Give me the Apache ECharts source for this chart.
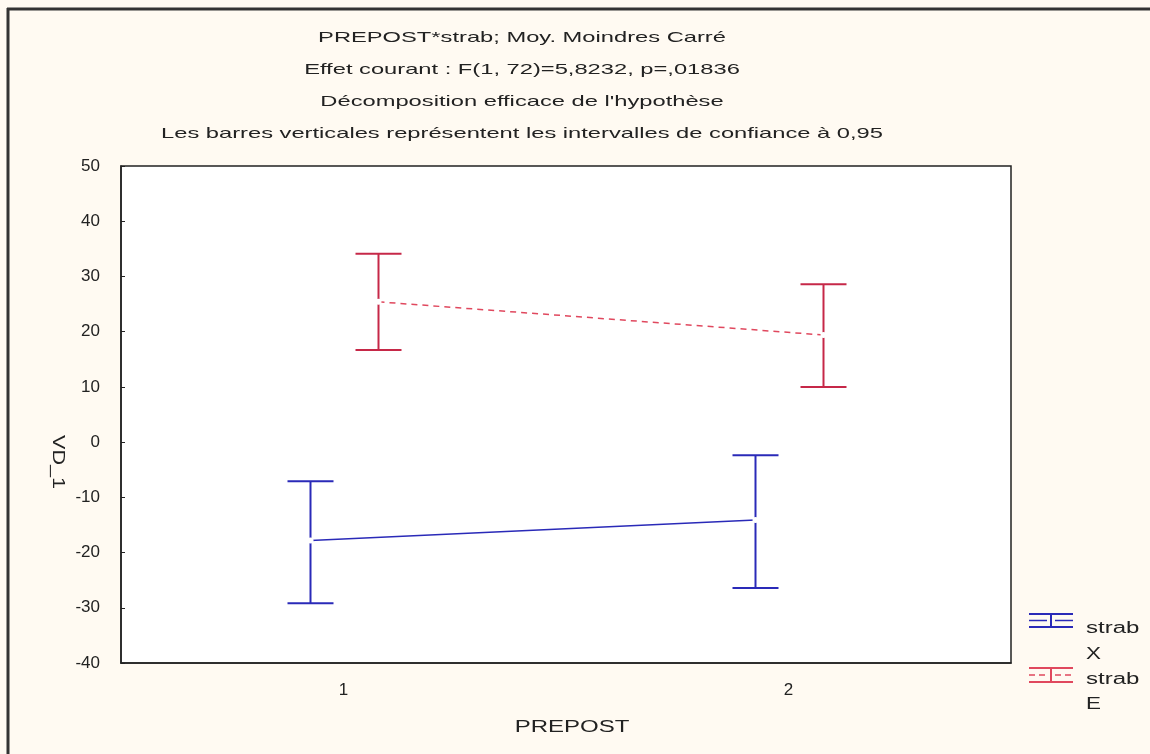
<!DOCTYPE html>
<html>
<head>
<meta charset="utf-8">
<script src="https://cdn.jsdelivr.net/npm/echarts@6/dist/echarts.min.js"></script>
<style>
  html, body { margin: 0; padding: 0; background: #fffaf2; }
  #chart { width: 1150px; height: 754px; }
</style>
</head>
<body>
<div id="chart"></div>
<script>
// PREPOST levels on the x axis
const categories = ['1', '2'];
const yTicks = { min: -40, max: 50, step: 10 };

// strab = X : least-squares means and 95% confidence limits
const meanX = [-17.8, -14.1];
const lowX = [-29.2, -26.4];
const highX = [-7.1, -2.4];

// strab = E : least-squares means and 95% confidence limits
const meanE = [25.4, 19.4];
const lowE = [16.7, 10.0];
const highE = [34.1, 28.6];

const titleLines = [
  'PREPOST*strab; Moy. Moindres Carré',
  'Effet courant : F(1, 72)=5,8232, p=,01836',
  'Décomposition efficace de l\'hypothèse',
  'Les barres verticales représentent les intervalles de confiance à 0,95'
];
const legendLabels = [['strab', 'X'], ['strab', 'E']];

const FONT = '"Liberation Sans", Arial, sans-serif';
const TICK_FONT = '"Liberation Sans", Arial, sans-serif';
const INK = '#222222';
const BLUE = '#2a2ab8';
const RED_BAR = '#c62848';
const RED_LINE = '#e0485e';

// one error-bar group per series, shifted sideways from the category tick
function groupSeries(name, means, lows, highs, dx, barColor, lineColor, dashed) {
  const rows = categories.map((c, i) => [i, means[i], lows[i], highs[i]]);
  return {
    type: 'custom',
    name: name,
    data: rows,
    z: 5,
    renderItem: function (params, api) {
      const i = api.value(0);
      const pMean = api.coord([i, api.value(1)]);
      const pLow = api.coord([i, api.value(2)]);
      const pHigh = api.coord([i, api.value(3)]);
      const x = pMean[0] + dx;
      const cap = 23;
      const children = [
        { type: 'line', shape: { x1: x, y1: pHigh[1], x2: x, y2: pLow[1] },
          style: { stroke: barColor, lineWidth: 2 } },
        { type: 'line', shape: { x1: x - cap, y1: pHigh[1], x2: x + cap, y2: pHigh[1] },
          style: { stroke: barColor, lineWidth: 2 } },
        { type: 'line', shape: { x1: x - cap, y1: pLow[1], x2: x + cap, y2: pLow[1] },
          style: { stroke: barColor, lineWidth: 2 } }
      ];
      // segment joining this mean to the next one
      if (i + 1 < rows.length) {
        const pNext = api.coord([i + 1, rows[i + 1][1]]);
        children.push({
          type: 'line',
          shape: { x1: x, y1: pMean[1], x2: pNext[0] + dx, y2: pNext[1] },
          style: { stroke: lineColor, lineWidth: 1.5, lineDash: dashed ? [6, 5] : null }
        });
      }
      children.push({ type: 'circle', shape: { cx: x, cy: pMean[1], r: 3 },
        style: { fill: '#ffffff' }, z2: 10 });
      return { type: 'group', children: children };
    }
  };
}

function legendIcon(x, yTop, yBot, color, dashed) {
  const yMid = (yTop + yBot) / 2;
  const xc = x + 22;
  return [
    { type: 'line', shape: { x1: x, y1: yTop, x2: x + 44, y2: yTop }, style: { stroke: color, lineWidth: 2 } },
    { type: 'line', shape: { x1: x, y1: yBot, x2: x + 44, y2: yBot }, style: { stroke: color, lineWidth: 2 } },
    { type: 'line', shape: { x1: xc, y1: yTop, x2: xc, y2: yBot }, style: { stroke: color, lineWidth: 2 } },
    { type: 'line', shape: { x1: x, y1: yMid, x2: xc - 4, y2: yMid },
      style: { stroke: color, lineWidth: 1.5, lineDash: dashed ? [6, 4] : null } },
    { type: 'line', shape: { x1: xc + 4, y1: yMid, x2: x + 44, y2: yMid },
      style: { stroke: color, lineWidth: 1.5, lineDash: dashed ? [6, 4] : null } }
  ];
}

// wide text, as printed by the original statistics package
function wideText(str, x, y, opts) {
  return {
    type: 'text', x: x, y: y,
    scaleX: opts.scaleX, rotation: opts.rotation || 0,
    style: {
      text: str, fontFamily: FONT, fontSize: opts.size, fontWeight: opts.weight || 'normal',
      fill: INK, align: opts.align || 'center', verticalAlign: 'middle'
    }
  };
}

const titleY = [38, 70, 102, 134];
const titleGraphics = titleLines.map((t, i) => wideText(t, 522, titleY[i], { size: 15, scaleX: 1.58 }));

const legendGraphics = [
  ...legendIcon(1029, 614, 627, BLUE, false),
  wideText(legendLabels[0][0], 1086, 629, { size: 16, scaleX: 1.5, align: 'left' }),
  wideText(legendLabels[0][1], 1086, 655, { size: 16, scaleX: 1.4, align: 'left' }),
  ...legendIcon(1029, 668, 682, RED_LINE, true),
  wideText(legendLabels[1][0], 1086, 680, { size: 16, scaleX: 1.5, align: 'left' }),
  wideText(legendLabels[1][1], 1086, 705, { size: 16, scaleX: 1.4, align: 'left' })
];

const chart = echarts.init(document.getElementById('chart'), null, { renderer: 'canvas' });

chart.setOption({
  backgroundColor: '#fffaf2',
  animation: false,
  grid: {
    left: 121, top: 166, right: 139, bottom: 91,
    show: true, backgroundColor: '#ffffff', borderColor: '#222', borderWidth: 1.5
  },
  xAxis: {
    type: 'category',
    data: categories,
    boundaryGap: true,
    axisLine: { onZero: false, lineStyle: { color: '#222', width: 1.5 } },
    axisTick: { inside: true, alignWithLabel: true, length: 4, lineStyle: { color: '#222' } },
    axisLabel: { fontFamily: TICK_FONT, fontSize: 17, color: INK, margin: 19 },
    splitLine: { show: false }
  },
  yAxis: {
    type: 'value',
    min: yTicks.min, max: yTicks.max, interval: yTicks.step,
    axisLine: { show: true, lineStyle: { color: '#222', width: 1.5 } },
    axisTick: { show: true, inside: true, length: 4, lineStyle: { color: '#222' } },
    axisLabel: { fontFamily: TICK_FONT, fontSize: 17, color: INK, margin: 21 },
    splitLine: { show: false }
  },
  series: [
    groupSeries('strab X', meanX, lowX, highX, -33, BLUE, BLUE, false),
    groupSeries('strab E', meanE, lowE, highE, 35, RED_BAR, RED_LINE, true)
  ],
  graphic: [
    // outer frame
    { type: 'line', shape: { x1: 7, y1: 9, x2: 1150, y2: 9 }, style: { stroke: '#333', lineWidth: 3 } },
    { type: 'line', shape: { x1: 8, y1: 8, x2: 8, y2: 754 }, style: { stroke: '#333', lineWidth: 3 } },
    ...titleGraphics,
    // axis titles
    wideText('PREPOST', 572, 728, { size: 16, scaleX: 1.5 }),
    wideText('VD_1', 57, 462, { size: 16, scaleX: 1.35, rotation: -Math.PI / 2 }),
    ...legendGraphics
  ]
});
</script>
</body>
</html>
